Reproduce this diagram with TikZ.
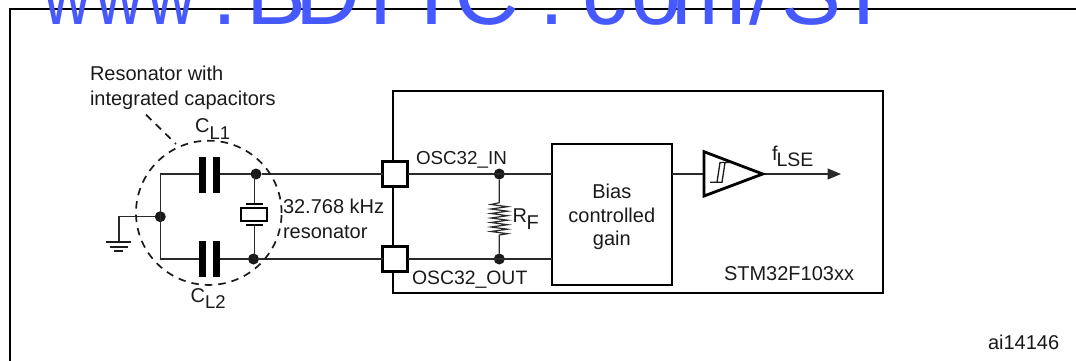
\documentclass[tikz,border=0pt]{standalone}
\usepackage{fontspec}
\setmainfont{Liberation Sans}
\usetikzlibrary{arrows.meta,shapes.geometric}
\definecolor{ink}{HTML}{1A1A1A}
\definecolor{wireink}{HTML}{2A2A2A}
\definecolor{wm}{HTML}{4559FF}
\newcommand\wmch[2]{\hbox to 0pt{\hss #2\hss}\kern #1pt\relax}
\newcommand\wmw{\scalebox{.74}[1]{w}}
\tikzset{
  x=1pt,y=-1pt,
  wire/.style={draw=wireink,line width=1.4pt},
  frameline/.style={draw=black,line width=2.2pt},
  padbox/.style={draw=black,line width=3pt,fill=white,minimum size=25pt,inner sep=0pt,outer sep=0pt},
  jct/.style={circle,fill=ink,minimum size=11pt,inner sep=0pt,outer sep=0pt},
  lbl/.style={anchor=base west,inner sep=0pt,outer sep=0pt,text=ink,font=\fontsize{20}{24}\selectfont},
  sublbl/.style={lbl,font=\fontsize{18.5}{22}\selectfont},
  pinlbl/.style={lbl,font=\fontsize{18.8}{22}\selectfont},
  plate/.style={fill=black,draw=none},
  bluebox/.style={draw=black,line width=2pt,fill=white,inner sep=0pt,outer sep=0pt}
}
\begin{document}
\begin{tikzpicture}
\useasboundingbox (0,0) rectangle (1076,361);
\clip (0,0) rectangle (1076,361);
% page frame
\coordinate (fbl) at (10,362);
\coordinate (ftl) at (10,9);
\coordinate (ftr) at (1077,9);
\draw[frameline] (fbl) -- (ftl) -- (ftr);
% chip outline
\node[draw=black,line width=2.6pt,minimum width=490pt,minimum height=202pt,inner sep=0pt,outer sep=0pt] (chip) at (638,192) {};
% wires
\coordinate (gndtop) at (119,216.7);
\coordinate (gndbar) at (119,242);
\node[jct] (jl) at (160.3,216.7) {};
\node[jct] (jt) at (256,174) {};
\node[jct] (jb) at (253.5,259) {};
\node[jct] (jin) at (499.3,174) {};
\node[jct] (jout) at (499.3,259) {};
\coordinate (ltop) at (160.3,174);
\coordinate (lbot) at (160.3,259);
\node[padbox] (padin) at (395,174) {};
\node[padbox] (padout) at (395,259) {};
\node[bluebox,minimum width=119.5pt,minimum height=141pt] (bias) at (611.8,214.5) {};
\draw[wire] (jl) -- (gndtop) -- (gndbar);
\draw[wire] (ltop) -- (lbot);
\draw[wire] (ltop) -- (jt) -- (jt -| padin.west);
\draw[wire] (lbot) -- (jb) -- (jb -| padout.west);
\draw[wire] (padin.east) -- (bias.west |- padin.east);
\draw[wire] (padout.east) -- (bias.west |- padout.east);
% ground symbol
\draw[draw=ink,line width=1.8pt] (105.7,242.3) -- (131,242.3) (109.5,246.7) -- (127.5,246.7);
\draw[draw=ink,line width=1.8pt] (114,250.8) -- (122.5,250.8);
% capacitors
\fill[white] (205.8,170) rectangle (213,178) (205.8,255) rectangle (213,263);
\fill[plate] (199,157) rectangle (205.8,192.8) (213,157) rectangle (219.8,192.8);
\fill[plate] (199,241) rectangle (205.8,276.8) (213,241) rectangle (219.8,276.8);
% crystal
\coordinate (xt) at (254.3,203.7);
\coordinate (xb) at (254.3,225);
\draw[wire] (jt.center -| xt) -- (xt);
\draw[wire] (jb.center -| xb) -- (xb);
\draw[draw=black,line width=2pt] (246,203.7) -- (263,203.7) (246,225) -- (263,225);
\node[draw=black,line width=2.2pt,fill=white,minimum width=26pt,minimum height=13.5pt,inner sep=0pt,outer sep=0pt] (xtal) at (254.3,214.5) {};
% resonator circle
\node[draw=ink,line width=1.7pt,dash pattern=on 7.5pt off 6pt,ellipse,minimum width=145.6pt,minimum height=144.3pt,inner sep=0pt,outer sep=0pt] (res) at (208.8,212.8) {};
\coordinate (leadend) at (146,114.7);
\draw[draw=ink,line width=1.7pt,dash pattern=on 7.5pt off 6pt] (leadend) -- (176,144);
% feedback resistor
\draw[wire,line width=1.2pt] (jin) -- (499.3,202.7) -- (491,204.5) -- (507.5,206.7) -- (491,209) -- (507.5,211.2) -- (491,213.5) -- (507.5,215.7) -- (491,218) -- (507.5,220.2) -- (491,222.5) -- (507.5,224.7) -- (491,227) -- (507.5,229.2) -- (491,231.5) -- (507.5,233.7) -- (499.3,235) -- (jout);
% schmitt buffer
\coordinate (bufl) at (704,174);
\coordinate (bufr) at (762.7,174);
\coordinate (outtip) at (841,174);
\draw[wire] (bias.east |- bufl) -- (bufl);
\draw[wire,-{Triangle[length=13.5pt,width=11pt]}] (bufr) -- (outtip);
\draw[draw=black,line width=2.8pt,line join=miter,fill=white] (704,151.7) -- (762.7,174) -- (704,196) -- cycle;
\draw[draw=ink,line width=1.3pt] (710,182.3) -- (722,182.3) -- (725,162.5) -- (730,162.5) (717,182.3) -- (720,162.5) -- (725,162.5);
% labels
\node[lbl] (t1) at (90,80.6) {Resonator with};
\node[lbl] (t2) at (90,105) {integrated capacitors};
\node[lbl] (t3) at (283,213) {32.768 kHz};
\node[lbl] (t4) at (283,238) {resonator};
\node[lbl] (cl1c) at (195,132.7) {C};
\node[sublbl] (cl1s) at (209.5,139) {L1};
\node[lbl] (cl2c) at (190.7,302.7) {C};
\node[sublbl] (cl2s) at (205.2,308.4) {L2};
\node[pinlbl] (oin) at (416,164.7) {OSC32\_IN};
\node[pinlbl,font=\fontsize{19.4}{22}\selectfont] (oout) at (412,284.3) {OSC32\_OUT};
\node[lbl] (rr) at (512.7,222.7) {R};
\node[lbl] (rf) at (526.5,229) {F};
\node[lbl] (ff) at (772,160.7) {f};
\node[lbl,font=\fontsize{19.5}{22}\selectfont] (fs) at (776.5,166.7) {LSE};
\node[lbl,anchor=base] (b1) at (611.8,198) {Bias};
\node[lbl,anchor=base] (b2) at (611.8,222) {controlled};
\node[lbl,anchor=base] (b3) at (611.8,245.7) {gain};
\node[lbl] (stm) at (724,280.7) {STM32F103xx};
\node[lbl] (ai) at (988,349) {ai14146};
% watermark: glyphs at the reference's even pitch
\node[anchor=base west,inner sep=0pt,outer sep=0pt,text=wm,font=\fontsize{90}{100}\selectfont] (mark) at (68,25) {\wmch{52}{\wmw}\wmch{52}{\wmw}\wmch{53}{\wmw}\wmch{52}{.}\wmch{51}{B}\wmch{53}{D}\wmch{51}{T}\wmch{55}{I}\wmch{65}{C}\wmch{53}{.}\wmch{52}{c}\wmch{52}{o}\wmch{53}{m}\wmch{50}{/}\wmch{52}{S}\wmch{0}{T}};
\end{tikzpicture}
\end{document}
